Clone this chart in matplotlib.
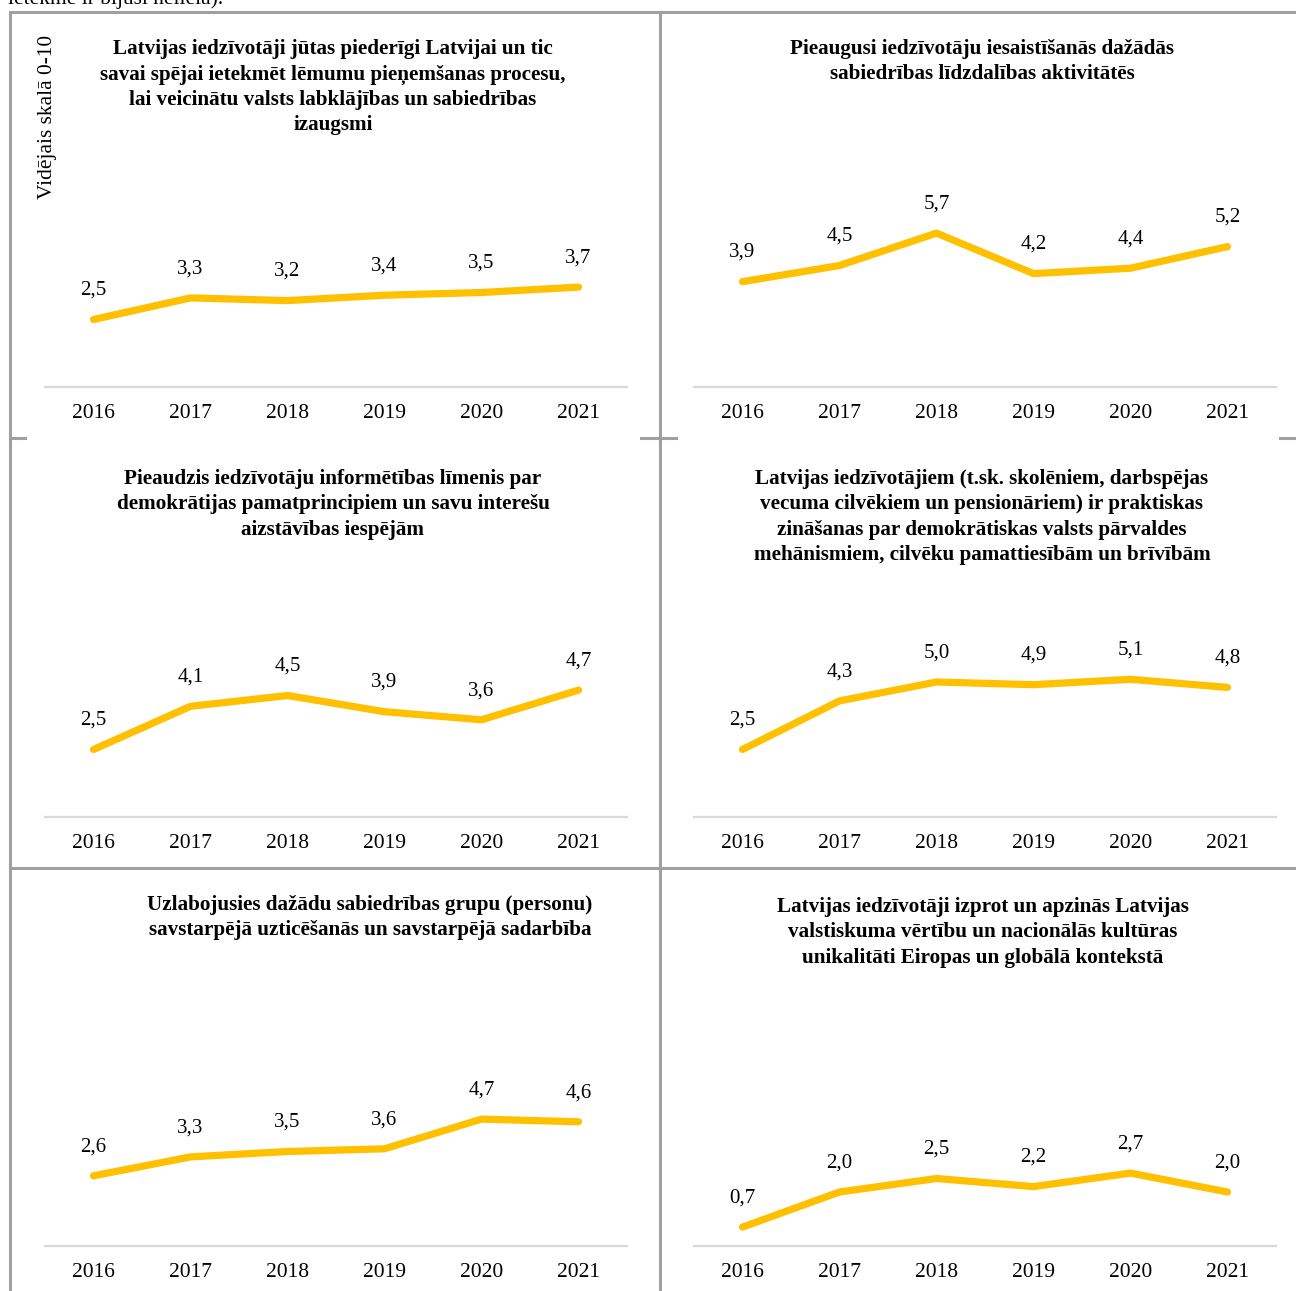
import matplotlib
matplotlib.use("Agg")
import matplotlib.pyplot as plt
from matplotlib.lines import Line2D

plt.rcParams["font.family"] = ["Liberation Serif", "DejaVu Serif"]

W, H = 1296, 1291

years = ["2016", "2017", "2018", "2019", "2020", "2021"]

titles = [
    "Latvijas iedzīvotāji jūtas piederīgi Latvijai un tic\n"
    "savai spējai ietekmēt lēmumu pieņemšanas procesu,\n"
    "lai veicinātu valsts labklājības un sabiedrības\nizaugsmi",
    "Pieaugusi iedzīvotāju iesaistīšanās dažādās\n"
    "sabiedrības līdzdalības aktivitātēs",
    "Pieaudzis iedzīvotāju informētības līmenis par\n"
    "demokrātijas pamatprincipiem un savu interešu\naizstāvības iespējām",
    "Latvijas iedzīvotājiem (t.sk. skolēniem, darbspējas\n"
    "vecuma cilvēkiem un pensionāriem) ir praktiskas\n"
    "zināšanas par demokrātiskas valsts pārvaldes\n"
    "mehānismiem, cilvēku pamattiesībām un brīvībām",
    "Uzlabojusies dažādu sabiedrības grupu (personu)\n"
    "savstarpējā uzticēšanās un savstarpējā sadarbība",
    "Latvijas iedzīvotāji izprot un apzinās Latvijas\n"
    "valstiskuma vērtību un nacionālās kultūras\n"
    "unikalitāti Eiropas un globālā kontekstā",
]

v1 = [2.5, 3.3, 3.2, 3.4, 3.5, 3.7]
v2 = [3.9, 4.5, 5.7, 4.2, 4.4, 5.2]
v3 = [2.5, 4.1, 4.5, 3.9, 3.6, 4.7]
v4 = [2.5, 4.3, 5.0, 4.9, 5.1, 4.8]
v5 = [2.6, 3.3, 3.5, 3.6, 4.7, 4.6]
v6 = [0.7, 2.0, 2.5, 2.2, 2.7, 2.0]
series = [v1, v2, v3, v4, v5, v6]

ylabel = "Vidējais skalā 0-10"
GOLD = "#FFC000"
GRID = "#D9D9D9"
BORDER = "#A0A0A0"


def fx(px):
    return px / W


def fy(py):
    return 1 - py / H


fig = plt.figure(figsize=(W / 100, H / 100), dpi=100)

# panel layout in pixels: axes left, gridline y, title centre x / top y
col_left = [45, 694]
row_base = [387, 817, 1246]
title_pos = [(333, 39), (982, 39), (333, 469), (982, 469), (370, 895), (983, 897)]
px_per_unit = 27.0

for i, vals in enumerate(series):
    r, c = divmod(i, 2)
    left, base = col_left[c], row_base[r]
    h = 10 * px_per_unit
    ax = fig.add_axes([fx(left), fy(base), 582 / W, h / H])
    x = range(len(years))
    ax.plot(x, vals, color=GOLD, lw=5.2, solid_capstyle="round", solid_joinstyle="round")
    for xi, v in zip(x, vals):
        ax.annotate(f"{v:.1f}".replace(".", ","), (xi, v), xytext=(0, 21),
                    textcoords="offset points", ha="center", va="center", fontsize=15)
    ax.set_xlim(-0.5, len(years) - 0.5)
    ax.set_ylim(0, 10)
    ax.set_xticks(list(x))
    ax.set_xticklabels(years, fontsize=15.5)
    ax.tick_params(axis="x", length=0, pad=12)
    ax.set_yticks([])
    for s in ["top", "right", "left"]:
        ax.spines[s].set_visible(False)
    ax.spines["bottom"].set_color(GRID)
    ax.spines["bottom"].set_linewidth(1.6)
    ax.patch.set_alpha(0)
    tx, ty = title_pos[i]
    fig.text(fx(tx), fy(ty), titles[i], ha="center", va="top", fontsize=15.2,
             fontweight="bold", linespacing=1.36)

fig.text(fx(48), fy(117), ylabel, rotation=90, ha="center", va="center", fontsize=15.4)

# cut-off sentence above the table (clipped in the source too)
fig.text(fx(8), fy(4), "ietekme ir bijusi neliela).", ha="left", va="baseline", fontsize=15.4)

# table borders
def seg(x0, y0, x1, y1):
    fig.add_artist(Line2D([fx(x0), fx(x1)], [fy(y0), fy(y1)], color=BORDER, lw=2.2,
                          transform=fig.transFigure))

seg(10, 12, 1296, 12)
seg(10, 12, 10, 1291)
seg(660, 12, 660, 1291)
seg(10, 438, 25, 438)
seg(641, 438, 676, 438)
seg(1280, 438, 1296, 438)
seg(10, 868, 1296, 868)

fig.savefig("out.png", dpi=100)
